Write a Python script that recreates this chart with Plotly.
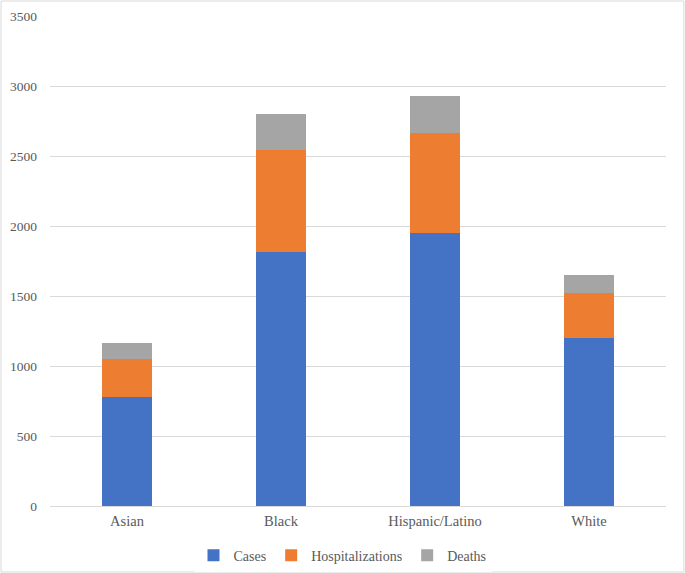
import plotly.graph_objects as go

# values
groups = ["Asian", "Black", "Hispanic/Latino", "White"]
cases = [776, 1813, 1950, 1197]
hospitalizations = [274, 732, 716, 325]
deaths = [112, 253, 262, 129]

series = [
    ("Cases", cases, "#4472C4"),
    ("Hospitalizations", hospitalizations, "#ED7D31"),
    ("Deaths", deaths, "#A5A5A5"),
]

fig = go.Figure()
for name, vals, color in series:
    fig.add_trace(go.Bar(x=groups, y=vals, name=name, marker=dict(color=color, line=dict(width=0))))

fig.update_layout(
    barmode="stack",
    bargap=0.68,
    width=685,
    height=573,
    margin=dict(l=50, r=19, t=16, b=67),
    paper_bgcolor="white",
    plot_bgcolor="white",
    font=dict(family="Liberation Serif, Times New Roman, serif", size=14, color="#595959"),
    legend=dict(orientation="h", x=0.5, xanchor="center", xref="container",
                y=0.058, yanchor="top", yref="container",
                traceorder="normal", font=dict(size=14, color="#595959"), itemwidth=30),
    xaxis=dict(showgrid=False, showline=True, linecolor="#d9d9d9", ticks="", automargin=False,
               ticklabelstandoff=2, tickfont=dict(size=14.5, color="#595959")),
    yaxis=dict(range=[0, 3500], dtick=500, showgrid=True, gridcolor="#d9d9d9",
               zeroline=False, showline=False, ticks="", ticklabelstandoff=12, automargin=False,
               tickfont=dict(size=13.5, color="#595959")),
    shapes=[dict(type="rect", xref="paper", yref="paper",
                 x0=-0.0795, x1=1.029, y0=-0.1347, y1=1.0306,
                 line=dict(color="#d9d9d9", width=1), fillcolor="rgba(0,0,0,0)", layer="below")],
)

# drop the default page margin so the chart sits at the window's corner
fig.write_html("out.html", config={"displayModeBar": False},
               post_script="document.body.style.margin='0';")
